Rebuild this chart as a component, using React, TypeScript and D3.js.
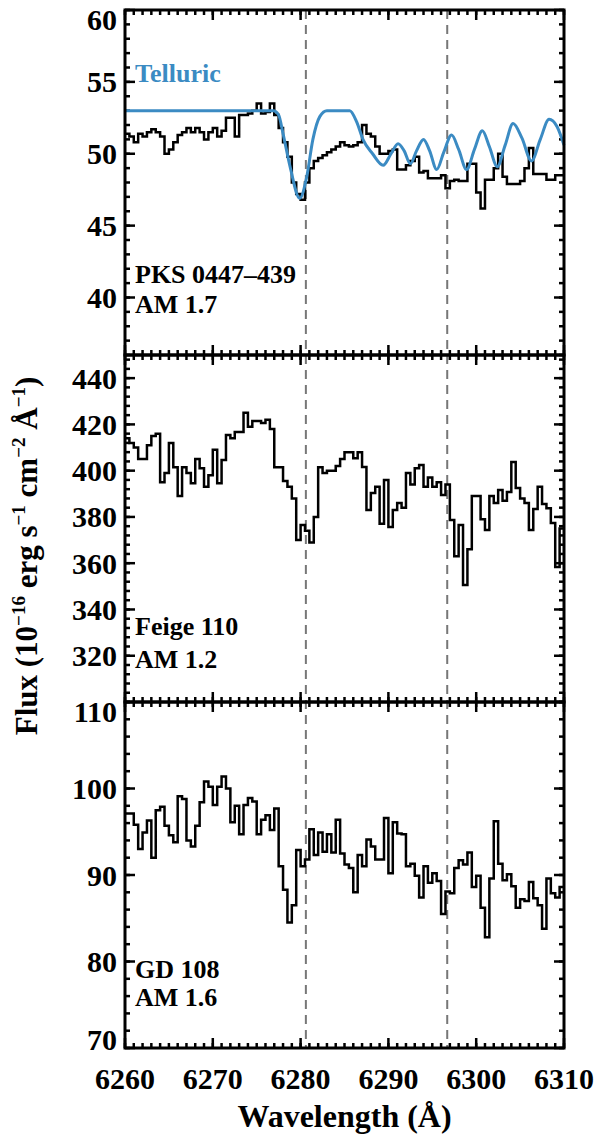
import React from 'react';
import * as d3 from 'd3';

// ---------------- DATA ----------------
const WAVE_MIN = 6260;
const WAVE_MAX = 6310;
const BIN_WIDTH = 0.5;

const pksFlux = [
  51.4, 51.2, 50.8, 51.4, 51.2, 51.5, 51.7, 51.5, 51.2, 50.0,
  50.3, 50.8, 51.3, 51.5, 51.8, 51.5, 51.8, 51.5, 51.0, 51.5,
  51.8, 51.2, 51.6, 52.5, 52.5, 51.2, 52.7, 52.7, 52.8, 53.0,
  53.5, 52.8, 52.9, 53.5, 52.7, 51.8, 50.8, 49.8, 48.0, 47.2,
  46.8, 48.0, 49.0, 49.5, 49.7, 49.9, 50.1, 50.3, 50.5, 50.8,
  50.6, 50.5, 50.6, 50.8, 52.0, 51.4, 51.2, 50.5, 50.0, 50.0,
  50.2, 50.3, 48.9, 48.9, 49.2, 49.5, 49.8, 48.7, 48.8, 48.3,
  48.3, 48.3, 48.5, 47.6, 48.1, 48.2, 48.1, 48.1, 49.3, 49.3,
  47.3, 46.2, 48.2, 48.2, 49.0, 50.0, 48.4, 47.9, 47.9, 47.9,
  48.1, 49.0, 50.4, 48.6, 48.6, 48.6, 48.2, 48.2, 48.5, 48.5,
];

const feigeFlux = [
  414, 412, 410, 405, 405, 411, 415, 416, 395, 399,
  412, 401.5, 389, 401.5, 399, 394.6, 405, 401, 393, 398,
  409, 394.6, 404.6, 415.4, 414, 416.7, 416.7, 425, 419, 421.5,
  421.5, 420.6, 422, 418, 401.5, 401.5, 395.5, 393, 388, 370,
  376.5, 374, 369, 380, 401.5, 399, 400, 400, 402, 405,
  408, 408, 405.4, 408, 401.6, 383, 390.3, 393, 377, 396,
  375.7, 383, 386, 384, 399, 394, 401, 402.4, 393, 397,
  393, 395, 389.5, 394, 378.7, 363, 376.5, 350.6, 366, 389,
  389, 379, 374.3, 389, 386, 391.6, 387, 390.8, 403.7, 392.5,
  388, 386, 374.3, 383.4, 393, 385.6, 383.8, 377.4, 358.4, 375,
];

const gdFlux = [
  97.1, 97.1, 95.8, 93.0, 94.9, 96.3, 92.0, 97.5, 97.9, 95.7,
  94.6, 93.8, 99.1, 98.8, 94.0, 93.3, 95.7, 98.4, 100.8, 100.2,
  98.1, 100.2, 101.4, 100.0, 96.1, 98.0, 94.7, 98.1, 98.9, 98.5,
  94.7, 96.4, 96.9, 95.2, 97.7, 91.0, 88.3, 84.5, 86.5, 92.9,
  91.0, 91.8, 95.3, 92.3, 94.9, 92.7, 94.7, 92.6, 96.4, 92.5,
  91.2, 90.8, 88.0, 92.3, 91.0, 94.1, 93.3, 91.8, 91.8, 96.6,
  90.2, 96.1, 94.8, 94.7, 91.0, 91.3, 89.9, 87.4, 91.0, 89.1,
  90.2, 89.3, 85.5, 88.1, 87.9, 90.8, 91.7, 91.2, 92.6, 88.6,
  89.9, 86.2, 82.8, 89.6, 96.2, 91.3, 89.4, 90.1, 88.7, 86.2,
  87.2, 87.0, 89.2, 87.3, 86.5, 83.8, 89.6, 87.9, 87.4, 88.6,
];

const telluricWave = [
  6260, 6276.9, 6277.5, 6278.0, 6278.8, 6279.9, 6280.7, 6281.4, 6282.2, 6283.0,
  6285.6, 6286.4, 6287.1, 6288.2, 6289.4, 6290.3, 6291.1, 6291.8, 6292.5, 6293.2,
  6294.0, 6294.7, 6295.5, 6296.3, 6297.2, 6298.0, 6298.9, 6299.8, 6300.7, 6301.5,
  6302.4, 6303.3, 6304.2, 6305.2, 6306.3, 6307.3, 6308.3, 6309.2, 6310.0,
];
const telluricFlux = [
  53.0, 53.0, 52.7, 51.4, 49.1, 46.9, 48.4, 51.0, 52.6, 53.0,
  53.0, 52.2, 51.0, 50.0, 49.2, 50.0, 50.7, 50.2, 49.3, 50.2,
  51.0, 50.2, 48.9, 50.1, 51.3, 50.3, 48.9, 50.3, 51.6, 50.5,
  49.1, 50.6, 52.1, 51.1, 49.5, 51.0, 52.4, 51.9, 50.6,
];

const xTickValues = [6260, 6270, 6280, 6290, 6300, 6310];
const markerWaves = [6280.6, 6296.7];

const pksTicks = [40, 45, 50, 55, 60];
const feigeTicks = [320, 340, 360, 380, 400, 420, 440];
const gdTicks = [70, 80, 90, 100, 110];

// ---------------- LAYOUT ----------------
const W = 600;
const H = 1135;
const LEFT = 125;
const RIGHT = 564;
const FONT = "'Liberation Serif', 'DejaVu Serif', serif";
const TELLURIC_COLOR = '#3b8bc3';

type Panel = {
  top: number;
  bottom: number;
  domain: [number, number];
  ticks: number[];
  minor: number;
  flux: number[];
  labels: string[];
  labelY: number[];
  telluric?: boolean;
};

const panels: Panel[] = [
  { top: 10, bottom: 355, domain: [36, 60], ticks: pksTicks, minor: 1, flux: pksFlux,
    labels: ['PKS 0447–439', 'AM 1.7'], labelY: [283, 313], telluric: true },
  { top: 355, bottom: 702, domain: [300, 450], ticks: feigeTicks, minor: 4, flux: feigeFlux,
    labels: ['Feige 110', 'AM 1.2'], labelY: [635, 668] },
  { top: 702, bottom: 1048, domain: [70, 110], ticks: gdTicks, minor: 2, flux: gdFlux,
    labels: ['GD 108', 'AM 1.6'], labelY: [978, 1006] },
];

export default function App() {
  const x = d3.scaleLinear().domain([WAVE_MIN, WAVE_MAX]).range([LEFT, RIGHT]);
  const wavelengths = pksFlux.map((_, i) => WAVE_MIN + i * BIN_WIDTH);
  const xMinor = d3.range(WAVE_MIN, WAVE_MAX + 0.001, 1);

  return (
    <svg width={W} height={H}
      style={{ position: 'absolute', left: 0, top: 0, background: '#fff', fontFamily: FONT, fontWeight: 'bold' }}>
      <rect x={0} y={0} width={W} height={H} fill="#fff" />
      {markerWaves.map((w) => (
        <line key={w} x1={x(w)} x2={x(w)} y1={panels[0].top} y2={panels[2].bottom}
          stroke="#777" strokeWidth={2} strokeDasharray="9,6" />
      ))}
      {panels.map((p, pi) => {
        const y = d3.scaleLinear().domain(p.domain).range([p.bottom, p.top]);
        const pts: [number, number][] = wavelengths.map((w, i) => [w, p.flux[i]]);
        pts.push([WAVE_MAX, p.flux[p.flux.length - 1]]);
        const step = d3.line<[number, number]>()
          .x((d) => x(d[0])).y((d) => y(d[1])).curve(d3.curveStepAfter);
        const yMinor = d3.range(p.domain[0], p.domain[1] + 0.001, p.minor);
        const tel = p.telluric
          ? d3.line<number>().x((_, i) => x(telluricWave[i])).y((d) => y(d)).curve(d3.curveMonotoneX)(telluricFlux)
          : null;
        return (
          <g key={pi}>
            {xMinor.map((w) => (
              <g key={'xm' + w}>
                <line x1={x(w)} x2={x(w)} y1={p.bottom} y2={p.bottom - 5} stroke="#000" strokeWidth={2.5} />
                <line x1={x(w)} x2={x(w)} y1={p.top} y2={p.top + 5} stroke="#000" strokeWidth={2.5} />
              </g>
            ))}
            {xTickValues.map((w) => (
              <g key={'xM' + w}>
                <line x1={x(w)} x2={x(w)} y1={p.bottom} y2={p.bottom - 10} stroke="#000" strokeWidth={2.5} />
                <line x1={x(w)} x2={x(w)} y1={p.top} y2={p.top + 10} stroke="#000" strokeWidth={2.5} />
              </g>
            ))}
            {yMinor.map((v) => (
              <g key={'ym' + v}>
                <line x1={LEFT} x2={LEFT + 5} y1={y(v)} y2={y(v)} stroke="#000" strokeWidth={2.5} />
                <line x1={RIGHT} x2={RIGHT - 5} y1={y(v)} y2={y(v)} stroke="#000" strokeWidth={2.5} />
              </g>
            ))}
            {p.ticks.map((v) => (
              <g key={'yM' + v}>
                <line x1={LEFT} x2={LEFT + 10} y1={y(v)} y2={y(v)} stroke="#000" strokeWidth={2.5} />
                <line x1={RIGHT} x2={RIGHT - 10} y1={y(v)} y2={y(v)} stroke="#000" strokeWidth={2.5} />
                <text x={117} y={Math.min(Math.max(y(v), p.top + 9), p.bottom - 9)} dy="0.35em"
                  textAnchor="end" fontSize={30}>{v}</text>
              </g>
            ))}
            <path d={step(pts) || ''} fill="none" stroke="#000" strokeWidth={2.5} strokeLinejoin="miter" />
            {tel && <path d={tel} fill="none" stroke={TELLURIC_COLOR} strokeWidth={3} />}
            {p.telluric && (
              <text x={135} y={82} fontSize={26} fill={TELLURIC_COLOR}>Telluric</text>
            )}
            {p.labels.map((l, li) => (
              <text key={l} x={135} y={p.labelY[li]} fontSize={26} fill="#000">{l}</text>
            ))}
            <rect x={LEFT} y={p.top} width={RIGHT - LEFT} height={p.bottom - p.top}
              fill="none" stroke="#000" strokeWidth={3} />
          </g>
        );
      })}
      {xTickValues.map((w) => (
        <text key={'xl' + w} x={x(w)} y={1089} textAnchor="middle" fontSize={30}>{w}</text>
      ))}
      <text x={(LEFT + RIGHT) / 2} y={1127} textAnchor="middle" fontSize={32}>Wavelength (Å)</text>
      <text transform="translate(37,556) rotate(-90)" textAnchor="middle" fontSize={31}>
        Flux (10<tspan dy={-12} fontSize={19}>−16</tspan>
        <tspan dy={12}> erg s</tspan><tspan dy={-12} fontSize={19}>−1</tspan>
        <tspan dy={12}> cm</tspan><tspan dy={-12} fontSize={19}>−2</tspan>
        <tspan dy={12}> Å</tspan><tspan dy={-12} fontSize={19}>−1</tspan>
        <tspan dy={12}>)</tspan>
      </text>
    </svg>
  );
}
